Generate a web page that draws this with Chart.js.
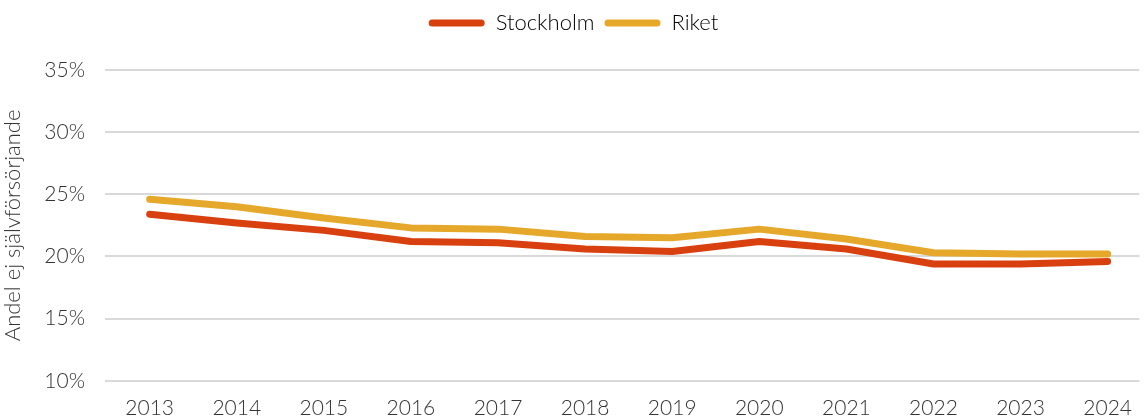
<!DOCTYPE html>
<html lang="sv">
<head>
<meta charset="utf-8">
<title>Andel ej självförsörjande</title>
<script src="https://cdn.jsdelivr.net/npm/chart.js@4.4.1/dist/chart.umd.min.js"></script>
<style>
  html, body { margin: 0; padding: 0; background: #fff; }
  #wrap { width: 1147px; height: 420px; }
</style>
</head>
<body>
<div id="wrap"><canvas id="chart"></canvas></div>
<script>
// Years on the x axis
const years = [2013, 2014, 2015, 2016, 2017, 2018, 2019, 2020, 2021, 2022, 2023, 2024];

// Share not self-supporting, in percent
const stockholm = [23.4, 22.7, 22.1, 21.2, 21.1, 20.6, 20.4, 21.2, 20.6, 19.4, 19.4, 19.6];
const riket = [24.6, 24.0, 23.1, 22.3, 22.2, 21.6, 21.5, 22.2, 21.4, 20.3, 20.2, 20.2];

const yTicks = [10, 15, 20, 25, 30, 35];

const seriesNames = ['Stockholm', 'Riket'];
const seriesColors = ['#D8400F', '#E6A82A'];

const fontFamily = 'Lato, "Open Sans", sans-serif';
const textColor = '#333333';

Chart.defaults.font.family = fontFamily;
Chart.defaults.font.weight = '300';
Chart.defaults.color = textColor;

const toPoints = (values) => values.map((v, i) => ({ x: years[i], y: v }));

// Extra room between the legend and the plot
const legendSpacing = {
  id: 'legendSpacing',
  beforeInit(chart) {
    const fit = chart.legend.fit;
    chart.legend.fit = function () {
      fit.call(this);
      this.height += 26;
    };
  },
};

new Chart(document.getElementById('chart'), {
  type: 'line',
  data: {
    datasets: [stockholm, riket].map((values, i) => ({
      label: seriesNames[i],
      data: toPoints(values),
      borderColor: seriesColors[i],
      backgroundColor: seriesColors[i],
      borderWidth: 7,
      borderCapStyle: 'round',
      borderJoinStyle: 'round',
      pointRadius: 0,
      tension: 0,
    })),
  },
  plugins: [legendSpacing],
  options: {
    responsive: true,
    maintainAspectRatio: false,
    animation: false,
    layout: { padding: { left: 0, right: 0, top: 2, bottom: -16 } },
    plugins: {
      tooltip: { enabled: false },
      legend: {
        position: 'top',
        labels: {
          boxWidth: 56,
          boxHeight: 7,
          useBorderRadius: true,
          borderRadius: 3.5,
          padding: 10,
          font: { size: 22, weight: '300' },
          color: textColor,
          generateLabels: (chart) => chart.data.datasets.map((ds, i) => ({
            text: ds.label,
            fillStyle: ds.borderColor,
            strokeStyle: ds.borderColor,
            lineWidth: 0,
            borderRadius: 3.5,
            hidden: false,
            datasetIndex: i,
          })),
        },
      },
    },
    scales: {
      x: {
        type: 'linear',
        min: 2012.487,
        max: 2024.365,
        afterBuildTicks: (axis) => { axis.ticks = years.map((v) => ({ value: v })); },
        grid: { display: false, drawTicks: false },
        border: { display: false },
        ticks: {
          padding: 15,
          font: { size: 21, weight: '300' },
          color: textColor,
          maxRotation: 0,
          autoSkip: false,
          callback: (v) => String(v),
        },
      },
      y: {
        min: 10,
        max: 35,
        afterBuildTicks: (axis) => { axis.ticks = yTicks.map((v) => ({ value: v })); },
        grid: { color: '#d9d9d9', lineWidth: 2, drawTicks: false },
        border: { display: false },
        ticks: {
          padding: 20,
          font: { size: 21, weight: '300' },
          color: textColor,
          callback: (v) => v + '%',
        },
        title: {
          display: true,
          text: 'Andel ej självförsörjande',
          font: { size: 22, weight: '300' },
          color: textColor,
          padding: { top: 0, bottom: 0 },
        },
        afterFit: (axis) => { axis.width = 105; },
      },
    },
  },
});
</script>
</body>
</html>
